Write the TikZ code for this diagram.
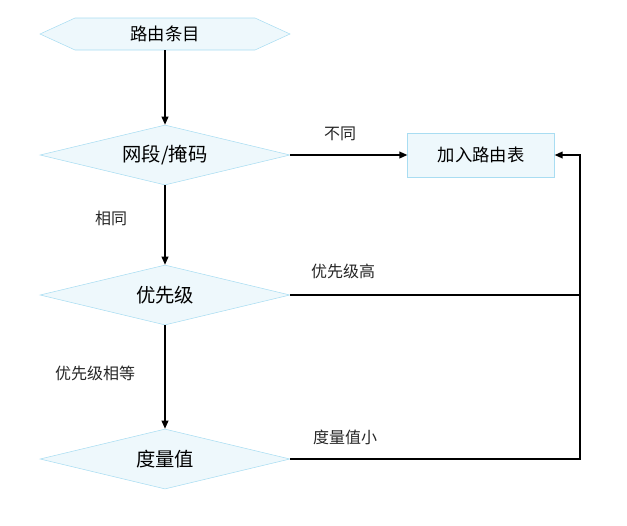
\documentclass[tikz,border=0pt]{standalone}
\usepackage{fontspec}
\setmainfont{Noto Sans CJK SC}
\usetikzlibrary{shapes.geometric,arrows.meta}
\definecolor{boxfill}{HTML}{EEF8FC}
\definecolor{boxline}{HTML}{A9DDF2}
\begin{document}
\begin{tikzpicture}[x=0.75pt,y=-0.75pt,
    dec/.style={diamond, aspect=4.15, minimum width=187.5pt, minimum height=45pt, inner sep=0pt, fill=boxfill, draw=boxline, font=\fontsize{14.5}{16}\selectfont},
    lab/.style={font=\fontsize{12}{14}\selectfont, text=black!85},
    flow/.style={line width=1.1pt, -{Triangle[length=6pt,width=5pt]}},
    line/.style={line width=1.1pt}]
  \useasboundingbox (0,0) rectangle (627,525);
  % start
  \filldraw[fill=boxfill, draw=boxline] (40,34) -- (75,18) -- (255,18) -- (290,34) -- (255,50) -- (75,50) -- cycle;
  \node[minimum width=187pt, minimum height=24pt, inner sep=0pt, font=\fontsize{13}{15}\selectfont] (entry) at (165,34) {路由条目};
  % decisions
  \node[dec] (net) at (165,155) {网段/掩码};
  \node[dec] (pref) at (165,295) {优先级};
  \node[dec] (cost) at (165,459) {度量值};
  \node[draw=boxline, fill=boxfill, minimum width=110pt, minimum height=33pt, font=\fontsize{13}{15}\selectfont] (table) at (481,155) {加入路由表};
  \coordinate (join) at (580,295);
  \coordinate (corner) at (580,459);
  \coordinate (top) at (580,155);
  % connectors
  \draw[flow] (entry) -- (net);
  \draw[flow] (net) -- (pref);
  \draw[flow] (pref) -- (cost);
  \draw[flow] (net.east) -- (table.west);
  \draw[line] (pref.east) -- (join);
  \draw[flow] (cost.east) -- (corner) -- (top) -- (table.east);
  % labels
  \node[lab] (l1) at (340,134) {不同};
  \node[lab] (l2) at (111,218) {相同};
  \node[lab] (l3) at (343,271) {优先级高};
  \node[lab] (l4) at (95,373) {优先级相等};
  \node[lab] (l5) at (345,437) {度量值小};
\end{tikzpicture}
\end{document}
